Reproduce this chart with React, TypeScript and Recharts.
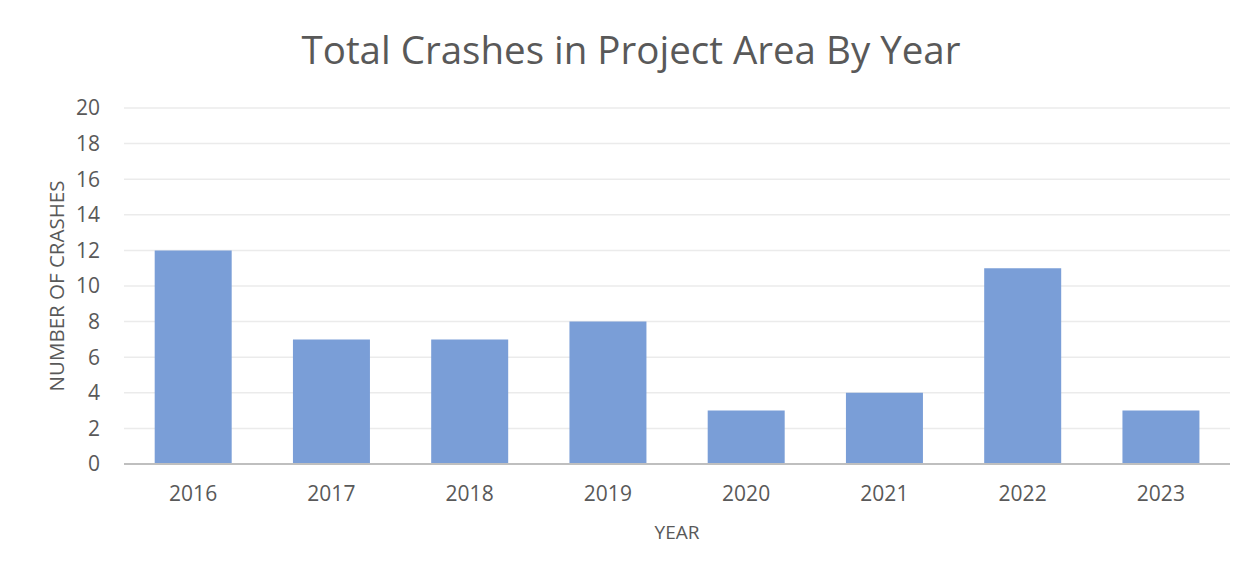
import React from "react";
import { BarChart, Bar, XAxis, YAxis, CartesianGrid, Label } from "recharts";

const years = ["2016", "2017", "2018", "2019", "2020", "2021", "2022", "2023"];
const crashes = [12, 7, 7, 8, 3, 4, 11, 3];
const yTicks = [0, 2, 4, 6, 8, 10, 12, 14, 16, 18, 20];

const data = years.map((y, i) => ({ year: y, crashes: crashes[i] }));

const FONT = "'Open Sans', sans-serif";
const TEXT = "#595959";

export default function App() {
  return (
    <div style={{ position: "relative", width: 1259, height: 575, margin: -8, background: "#fff", overflow: "hidden" }}>
      <div style={{ position: "absolute", left: 5, top: 3, width: 2, height: 600, background: "#d9d9d9" }} />
      <div style={{ position: "absolute", left: 5, top: 3, width: 1300, height: 2, background: "#d9d9d9" }} />
      <div
        style={{
          position: "absolute",
          left: 0,
          top: 21,
          width: 1262,
          textAlign: "center",
          fontFamily: FONT,
          fontSize: 38.5,
          color: TEXT,
          lineHeight: "56px",
          whiteSpace: "nowrap",
        }}
      >
        Total Crashes in Project Area By Year
      </div>
      <div style={{ position: "absolute", left: 0, top: 0 }}>
        <BarChart
          width={1259}
          height={575}
          data={data}
          margin={{ top: 108, right: 29, bottom: 0, left: 0 }}
          barCategoryGap="22.2%"
        >
          <CartesianGrid vertical={false} stroke="#ebebeb" strokeWidth={1.5} />
          <XAxis
            dataKey="year"
            height={111}
            tickLine={false}
            tickSize={0}
            tickMargin={22}
            axisLine={{ stroke: "#bfbfbf", strokeWidth: 2 }}
            tick={{ fill: TEXT, fontSize: 21, fontFamily: FONT }}
          >
            <Label
              value="YEAR"
              position="insideBottom"
              offset={36}
              style={{ fill: TEXT, fontSize: 19, fontFamily: FONT }}
            />
          </XAxis>
          <YAxis
            width={124}
            domain={[0, 20]}
            ticks={yTicks}
            interval={0}
            tickLine={false}
            axisLine={false}
            tickSize={0}
            tickMargin={24}
            tick={{ fill: TEXT, fontSize: 21, fontFamily: FONT }}
          >
            <Label
              value="NUMBER OF CRASHES"
              angle={-90}
              position="center"
              dx={-5}
              style={{ fill: TEXT, fontSize: 20.5, fontFamily: FONT, textAnchor: "middle" }}
            />
          </YAxis>
          <Bar dataKey="crashes" fill="#7a9ed7" isAnimationActive={false} />
        </BarChart>
      </div>
    </div>
  );
}
